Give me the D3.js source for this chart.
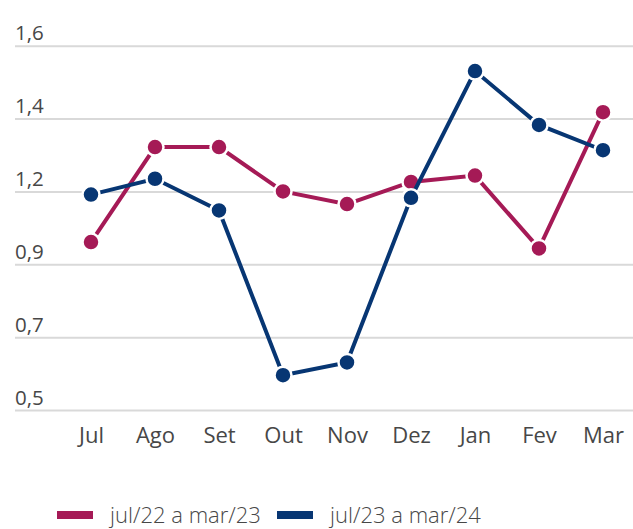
<!DOCTYPE html>
<html>
<head>
<meta charset="utf-8">
<script src="https://cdn.jsdelivr.net/npm/d3@7"></script>
<style>
  body { margin: 0; background: #fff; }
  svg { display: block; }
</style>
</head>
<body>
<script>
// chart size
const width = 633;
const height = 529;

// data
const months = ["Jul", "Ago", "Set", "Out", "Nov", "Dez", "Jan", "Fev", "Mar"];
const serie2223 = [0.99, 1.29, 1.29, 1.15, 1.11, 1.18, 1.20, 0.97, 1.40];
const serie2324 = [1.14, 1.19, 1.09, 0.57, 0.61, 1.13, 1.53, 1.36, 1.28];
const yTicks = [0.46, 0.69, 0.92, 1.15, 1.38, 1.61];
const seriesNames = ["jul/22 a mar/23", "jul/23 a mar/24"];

const colors = ["#a51a56", "#073673"];
const textColor = "#474747";

const svg = d3.select("body")
  .append("svg")
  .attr("width", width)
  .attr("height", height);

// scales
const x = d3.scalePoint().domain(months).range([91, 603]);
const y = d3.scaleLinear().domain([0.46, 1.61]).range([410, 45.7]);

// one decimal, comma, rounding half up
const fmt = (v) => (Math.round(v * 10 + 1e-6) / 10).toFixed(1).replace(".", ",");

// grid + y labels
const yAxis = svg.append("g")
  .attr("transform", "translate(15,0)")
  .call(d3.axisRight(y).tickValues(yTicks).tickSize(width - 15).tickFormat(fmt));
yAxis.select(".domain").remove();
yAxis.selectAll(".tick line")
  .attr("stroke", "#d9d9d9")
  .attr("stroke-width", 2);
yAxis.selectAll(".tick text")
  .attr("x", 0)
  .attr("dy", -6)
  .attr("text-anchor", "start")
  .attr("fill", textColor)
  .style("font-family", "'Open Sans', sans-serif")
  .style("font-size", "20.5px");

// x axis labels
const xAxis = svg.append("g")
  .attr("transform", "translate(0,443)")
  .call(d3.axisBottom(x).tickSize(0).tickPadding(0));
xAxis.select(".domain").remove();
xAxis.selectAll(".tick text")
  .attr("y", 0)
  .attr("dy", 0)
  .attr("fill", textColor)
  .style("font-family", "'Open Sans', sans-serif")
  .style("font-size", "22px");

// lines
const line = d3.line()
  .x((d, i) => x(months[i]))
  .y((d) => y(d));

[serie2223, serie2324].forEach((serie, s) => {
  const g = svg.append("g");
  g.append("path")
    .datum(serie)
    .attr("fill", "none")
    .attr("stroke", colors[s])
    .attr("stroke-width", 4)
    .attr("d", line);
  g.selectAll("circle")
    .data(serie)
    .enter()
    .append("circle")
    .attr("cx", (d, i) => x(months[i]))
    .attr("cy", (d) => y(d))
    .attr("r", 8.5)
    .attr("fill", colors[s])
    .attr("stroke", "#fff")
    .attr("stroke-width", 2.5);
});

// legend
const legendX = [57, 277];
const legend = svg.append("g").attr("transform", "translate(0,515)");
seriesNames.forEach((name, i) => {
  legend.append("rect")
    .attr("x", legendX[i])
    .attr("y", -4)
    .attr("width", 36)
    .attr("height", 8)
    .attr("fill", colors[i]);
  legend.append("text")
    .attr("x", legendX[i] + 53)
    .attr("y", 0)
    .attr("dy", "0.35em")
    .attr("fill", textColor)
    .style("font-family", "'Open Sans', sans-serif")
    .style("font-weight", 300)
    .style("font-size", "22px")
    .text(name);
});
</script>
</body>
</html>
